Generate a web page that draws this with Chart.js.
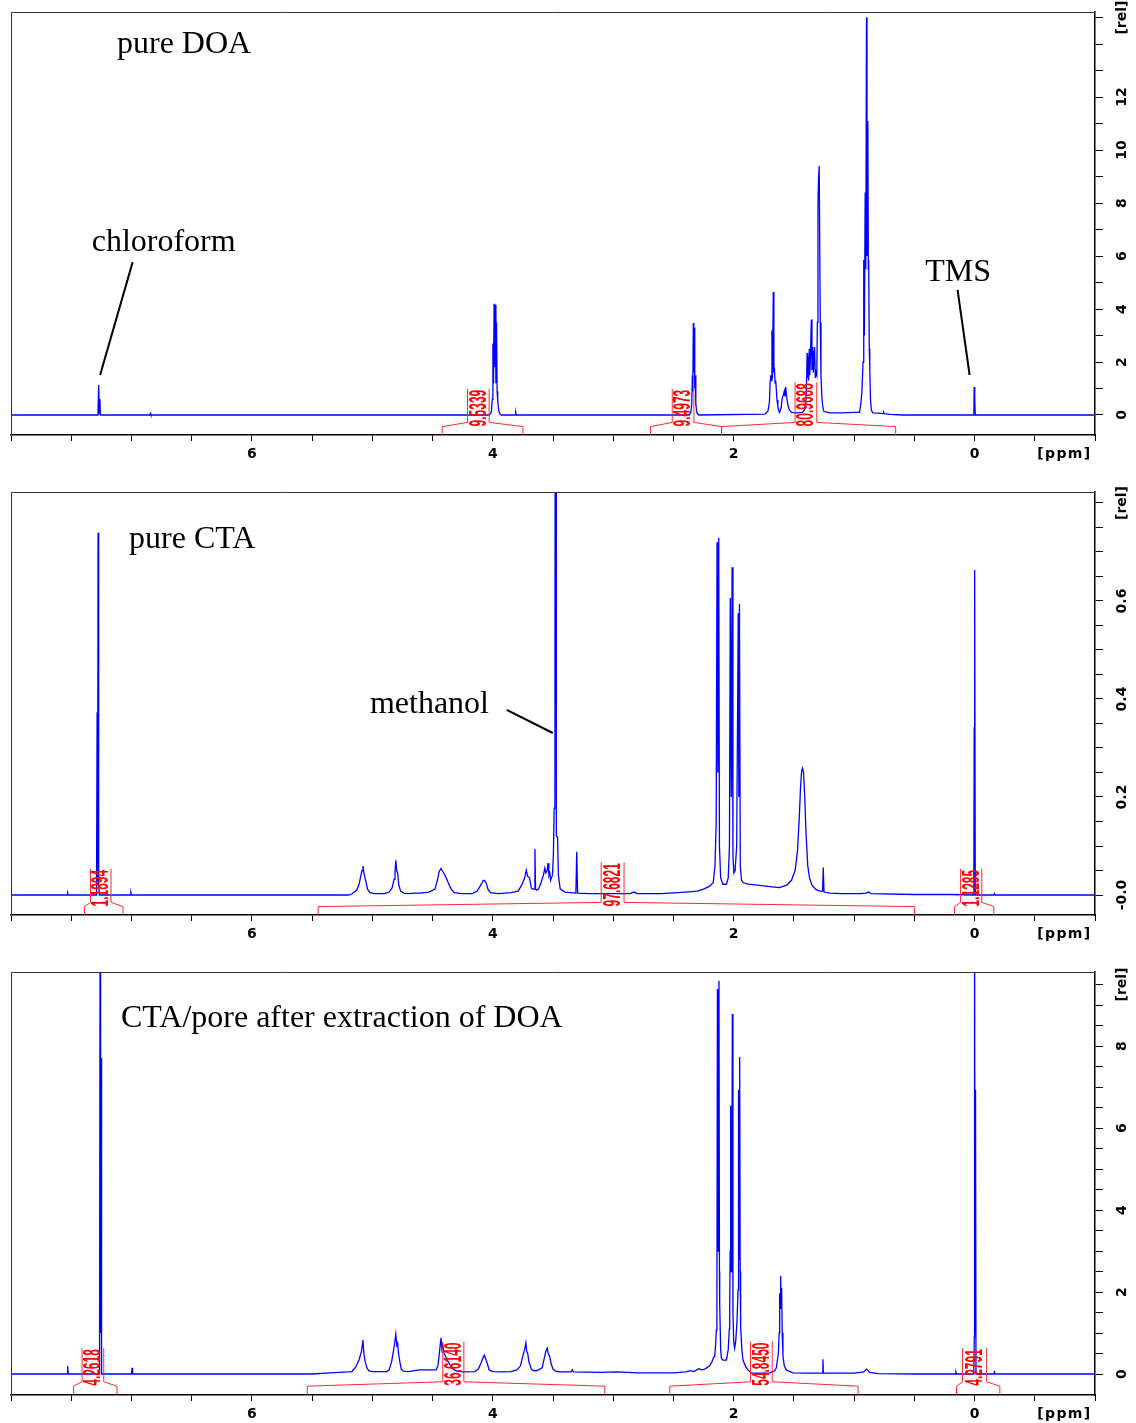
<!DOCTYPE html>
<html><head><meta charset="utf-8">
<script src="https://cdn.jsdelivr.net/npm/chart.js@4.4.0/dist/chart.umd.min.js"></script>
<style>
html,body{margin:0;padding:0;background:#fff;overflow:hidden;width:1136px;height:1423px}
.panel{position:absolute;left:0;width:1136px;height:480px}
</style></head><body>
<div class="panel" style="top:0"><canvas id="c1" width="1136" height="480"></canvas></div>
<div class="panel" style="top:480px"><canvas id="c2" width="1136" height="480"></canvas></div>
<div class="panel" style="top:960px"><canvas id="c3" width="1136" height="480"></canvas></div>
<script>
// ---------------- DATA ----------------
// chemical shift axis ticks (ppm)
const ppmTicks = [-1,-0.5,0,0.5,1,1.5,2,2.5,3,3.5,4,4.5,5,5.5,6,6.5,7,7.5,8];
const ppmTickLabels = {"6":"6","4":"4","2":"2","0":"0"};
const ppmUnitLabel = "[ppm]";

// intensity axis ticks
const doaTicks = [0,1,2,3,4,5,6,7,8,9,10,11,12,13,14,15];
const doaTickLabels = {"0":"0","2":"2","4":"4","6":"6","8":"8","10":"10","12":"12","15":"[rel]"};
const ctaTicks = [0,0.05,0.1,0.15,0.2,0.25,0.3,0.35,0.4,0.45,0.5,0.55,0.6,0.65,0.7,0.75,0.8];
const ctaTickLabels = {"0.00":"-0.0","0.20":"0.2","0.40":"0.4","0.60":"0.6","0.80":"[rel]"};
const poreTicks = [0,0.5,1,1.5,2,2.5,3,3.5,4,4.5,5,5.5,6,6.5,7,7.5,8,8.5,9,9.5];
const poreTickLabels = {"0":"0","2":"2","4":"4","6":"6","8":"8","9.5":"[rel]"};

// spectra: [ppm, relative intensity]
const doaSpectrum = [
 [8.0,0],[7.278,0],[7.272,1.13],[7.266,0.05],[7.262,0.6],[7.258,0],
 [6.848,0],[6.843,0.06],[6.838,0],
 [4.03,0],[4.012,0.1],[4.004,0.6],[3.999,2.7],[3.994,1.2],[3.989,4.2],[3.984,1.8],[3.979,4.15],[3.974,1.2],[3.969,3.5],[3.964,0.9],[3.959,0.55],[3.952,0.2],[3.942,0.05],[3.93,0],
 [3.815,0],[3.81,0.1],[3.805,0],
 [2.37,0],[2.355,0.1],[2.348,0.4],[2.343,1.5],[2.339,0.9],[2.335,3.47],[2.331,1.6],[2.327,3.3],[2.323,1.0],[2.319,1.5],[2.314,0.4],[2.305,0.08],[2.29,0],
 [1.74,0.03],[1.715,0.15],[1.703,0.5],[1.697,1.3],[1.693,1.5],[1.688,1.3],[1.682,3.2],[1.678,1.4],[1.671,4.64],[1.666,1.6],[1.662,1.8],[1.656,1.2],[1.651,1.3],[1.645,0.9],[1.64,0.57],[1.633,0.3],[1.625,0.15],[1.618,0.1],
 [1.605,0.3],[1.596,0.65],[1.588,0.75],[1.58,0.9],[1.574,0.7],[1.568,1.06],[1.562,0.75],[1.556,0.55],[1.548,0.35],[1.538,0.2],[1.52,0.1],[1.48,0.08],[1.43,0.1],
 [1.41,0.2],[1.4,0.45],[1.395,1.3],[1.39,2.34],[1.386,1.4],[1.382,2.2],[1.378,1.3],[1.372,2.5],[1.368,1.5],[1.362,2.3],[1.355,3.6],[1.35,1.7],[1.344,2.57],[1.338,1.6],[1.332,2.4],[1.328,2.57],[1.322,1.4],[1.316,1.6],[1.31,1.5],[1.305,3.5],[1.3,8.0],[1.295,8.94],[1.29,9.4],[1.286,9.4],[1.281,3.5],[1.275,1.5],[1.268,0.7],[1.26,0.3],[1.25,0.13],[1.2,0.08],[1.1,0.08],[1.0,0.1],
 [0.97,0.1],[0.955,0.1],[0.945,0.38],[0.935,0.9],[0.926,2.0],[0.92,5.85],[0.915,3.0],[0.908,8.4],[0.903,5.5],[0.897,15.0],[0.893,6.0],[0.886,11.1],[0.882,5.5],[0.879,5.85],[0.874,2.5],[0.87,1.77],[0.864,0.6],[0.857,0.19],[0.845,0.08],[0.8,0.07],[0.76,0.05],[0.755,0.1],[0.75,0.05],[0.7,0.02],[0.6,0],
 [0.006,0],[0.003,1.06],[0.0,0.3],[-0.003,0.6],[-0.006,0],[-1.0,0]
];
const ctaSpectrum = [
 [8.0,0],[7.535,0],[7.53,0.004],[7.525,0],
 [7.29,0],[7.285,0.373],[7.281,0.02],[7.277,0.739],[7.272,0.02],[7.266,0],
 [7.01,0],[7.005,0.005],[7.0,0],
 [5.2,0],[5.17,0.002],[5.13,0.01],[5.11,0.022],[5.095,0.04],[5.085,0.05],[5.078,0.059],[5.07,0.045],[5.06,0.034],[5.05,0.024],[5.04,0.012],[5.02,0.005],[4.98,0.003],
 [4.9,0.003],[4.86,0.006],[4.835,0.015],[4.82,0.032],[4.812,0.045],[4.805,0.071],[4.798,0.05],[4.79,0.045],[4.78,0.02],[4.765,0.008],[4.74,0.004],[4.7,0.003],[4.65,0.004],[4.6,0.004],
 [4.53,0.006],[4.48,0.012],[4.46,0.03],[4.445,0.048],[4.43,0.054],[4.42,0.05],[4.405,0.044],[4.385,0.034],[4.365,0.022],[4.345,0.012],[4.32,0.005],[4.26,0.003],
 [4.17,0.003],[4.13,0.008],[4.1,0.02],[4.08,0.029],[4.07,0.03],[4.055,0.025],[4.04,0.012],[4.02,0.005],[3.95,0.003],[3.85,0.005],
 [3.79,0.008],[3.76,0.02],[3.735,0.035],[3.722,0.051],[3.71,0.038],[3.695,0.035],[3.68,0.014],[3.668,0.012],
 [3.655,0.012],[3.65,0.094],[3.645,0.012],[3.635,0.01],
 [3.62,0.012],[3.6,0.025],[3.58,0.04],[3.568,0.055],[3.56,0.045],[3.548,0.05],[3.541,0.065],[3.534,0.04],[3.527,0.045],[3.52,0.03],[3.513,0.035],[3.505,0.04],[3.497,0.08],[3.49,0.177],[3.484,0.18],[3.481,1.5],[3.475,1.5],[3.472,0.12],[3.462,0.118],[3.455,0.04],[3.44,0.012],[3.4,0.006],
 [3.31,0.004],[3.303,0.088],[3.296,0.004],
 [3.2,0.003],[3.0,0.003],[2.86,0.003],[2.83,0.006],[2.8,0.003],[2.6,0.003],[2.4,0.006],[2.3,0.008],[2.25,0.012],[2.2,0.018],
 [2.17,0.025],[2.155,0.06],[2.145,0.15],[2.138,0.72],[2.131,0.25],[2.124,0.729],[2.118,0.1],[2.108,0.035],[2.09,0.022],[2.06,0.022],[2.045,0.035],[2.035,0.1],[2.028,0.606],[2.02,0.2],[2.013,0.669],[2.006,0.08],[1.998,0.045],[1.988,0.05],[1.975,0.1],[1.962,0.575],[1.957,0.2],[1.952,0.594],[1.945,0.06],[1.935,0.03],[1.92,0.025],[1.88,0.022],[1.8,0.02],[1.7,0.017],[1.62,0.015],
 [1.56,0.02],[1.52,0.03],[1.49,0.05],[1.47,0.09],[1.455,0.16],[1.445,0.22],[1.435,0.255],[1.428,0.259],[1.42,0.25],[1.41,0.2],[1.4,0.13],[1.385,0.06],[1.37,0.035],[1.35,0.02],[1.32,0.012],[1.29,0.008],
 [1.262,0.008],[1.256,0.056],[1.25,0.006],[1.2,0.004],[1.1,0.003],[0.95,0.003],[0.9,0.004],[0.88,0.006],[0.86,0.003],[0.5,0.001],[0.2,0.001],
 [0.006,0],[0.003,0.343],[0.0,0.02],[-0.002,0.663],[-0.006,0],[-0.16,0],[-0.165,0.003],[-0.17,0],[-1.0,0]
];
const poreSpectrum = [
 [8.0,0],[7.535,0],[7.53,0.2],[7.525,0],
 [7.265,0],[7.26,12],[7.256,1.0],[7.252,7.7],[7.248,0],
 [7.0,0],[6.995,0.15],[6.99,0],
 [5.5,0],[5.35,0.03],[5.2,0.05],[5.17,0.06],[5.14,0.16],[5.11,0.35],[5.09,0.55],[5.078,0.83],[5.07,0.5],[5.06,0.31],[5.045,0.15],[5.03,0.08],[5.0,0.06],[4.95,0.06],
 [4.88,0.06],[4.86,0.1],[4.84,0.3],[4.825,0.55],[4.815,0.75],[4.805,0.97],[4.797,0.7],[4.79,0.75],[4.782,0.5],[4.77,0.27],[4.76,0.12],[4.74,0.07],[4.7,0.06],[4.65,0.08],[4.6,0.1],[4.55,0.1],[4.5,0.1],
 [4.47,0.1],[4.455,0.2],[4.44,0.6],[4.43,0.88],[4.422,0.6],[4.415,0.7],[4.405,0.5],[4.39,0.42],[4.37,0.3],[4.35,0.2],[4.33,0.12],[4.3,0.07],[4.25,0.05],
 [4.15,0.06],[4.12,0.12],[4.1,0.25],[4.08,0.4],[4.07,0.46],[4.06,0.38],[4.045,0.25],[4.03,0.1],[4.0,0.06],[3.92,0.05],[3.85,0.06],
 [3.8,0.1],[3.77,0.2],[3.75,0.45],[3.735,0.6],[3.725,0.76],[3.718,0.55],[3.71,0.5],[3.7,0.3],[3.68,0.12],[3.66,0.08],[3.64,0.08],[3.62,0.1],
 [3.59,0.15],[3.575,0.35],[3.56,0.55],[3.548,0.63],[3.54,0.5],[3.53,0.45],[3.515,0.25],[3.5,0.12],[3.48,0.07],[3.45,0.05],
 [3.35,0.05],[3.34,0.1],[3.33,0.05],[3.1,0.04],[2.97,0.05],[2.8,0.03],[2.5,0.03],[2.4,0.05],[2.36,0.08],[2.33,0.06],[2.296,0.12],[2.285,0.13],[2.27,0.1],[2.24,0.12],[2.2,0.2],
 [2.18,0.3],[2.165,0.42],[2.158,0.42],[2.15,0.7],[2.144,1.07],[2.139,2.0],[2.135,9.39],[2.131,3.0],[2.127,3.0],[2.122,9.59],[2.118,2.5],[2.116,1.7],[2.108,0.6],[2.102,0.39],[2.09,0.34],[2.06,0.34],[2.045,0.6],[2.036,1.1],[2.033,1.6],[2.029,3.0],[2.025,6.54],[2.02,2.5],[2.016,3.0],[2.011,8.78],[2.006,1.5],[2.0,0.8],[1.992,0.63],[1.983,0.8],[1.972,1.3],[1.964,2.05],[1.961,3.0],[1.958,6.93],[1.954,2.8],[1.95,7.73],[1.946,2.5],[1.942,1.15],[1.932,0.6],[1.923,0.34],[1.9,0.18],[1.881,0.1],[1.853,0.02],
 [1.8,0.02],[1.7,0.03],[1.66,0.08],[1.646,0.15],[1.629,0.5],[1.622,1.0],[1.618,1.97],[1.613,1.6],[1.61,2.39],[1.606,1.7],[1.602,2.1],[1.597,1.0],[1.591,0.45],[1.58,0.2],[1.563,0.1],[1.51,0.03],
 [1.4,0.02],[1.264,0.02],[1.259,0.36],[1.255,0.03],[1.2,0.02],[1.0,0.02],[0.92,0.05],[0.896,0.12],[0.87,0.04],[0.8,0.01],[0.5,0],
 [0.16,0],[0.155,0.05],[0.15,0],
 [0.006,0],[0.002,0.9],[0.0,12],[-0.004,1.0],[-0.008,6.93],[-0.012,0],
 [-0.16,0],[-0.165,0.05],[-0.17,0],[-1.0,0]
];

// integral regions (ppm): start, label left, label right, end, value
const doaIntStart = [4.42, 2.69, 2.10];
const doaIntLabelL = [4.21, 2.51, 1.49];
const doaIntLabelR = [4.03, 2.33, 1.31];
const doaIntEnd = [3.75, 2.10, 0.655];
const doaIntValue = ["9.5339", "9.4973", "80.9688"];

const ctaIntStart = [7.39, 5.45, 0.166];
const ctaIntLabelL = [7.34, 3.10, 0.116];
const ctaIntLabelR = [7.17, 2.91, -0.06];
const ctaIntEnd = [7.07, 0.50, -0.16];
const ctaIntValue = ["1.1894", "97.6821", "1.1285"];

const poreIntStart = [7.48, 5.54, 2.53, 0.15];
const poreIntLabelL = [7.41, 4.415, 1.86, 0.10];
const poreIntLabelR = [7.23, 4.24, 1.68, -0.10];
const poreIntEnd = [7.12, 3.07, 0.967, -0.21];
const poreIntValue = ["4.2618", "36.6140", "54.8450", "4.2791"];

// ---------------- RENDERING ----------------
const AXIS_FONT = {family: '"DejaVu Sans", sans-serif', weight: 'bold', size: 14};
const SERIF = '"Liberation Serif", "Times New Roman", serif';

const decorPlugin = {
  id: 'decor',
  afterDatasetsDraw(chart, args, opts) {
    const {ctx, chartArea: a} = chart;
    const x = chart.scales.x, y = chart.scales.y;
    ctx.save();
    // frame (top & left)
    ctx.strokeStyle = '#333';
    ctx.lineWidth = 1;
    ctx.beginPath();
    ctx.moveTo(a.left + 0.5, a.bottom);
    ctx.lineTo(a.left + 0.5, a.top + 0.5);
    ctx.lineTo(a.right, a.top + 0.5);
    ctx.stroke();

    // integrals
    const ig = opts.integrals;
    const base = y.getPixelForValue(0);
    const gap = a.bottom - base;
    const yEnd = base + gap * 0.58;
    const yMid = base + gap * 0.37;
    ctx.strokeStyle = '#ff2a2a';
    ctx.fillStyle = '#ff0000';
    ctx.lineWidth = 1;
    ctx.font = 'bold 23px "Liberation Sans", Arial, sans-serif';
    const sx = 0.52;
    for (let i = 0; i < ig.start.length; i++) {
      const xs = x.getPixelForValue(ig.start[i]);
      const xl = x.getPixelForValue(ig.left[i]);
      const xr = x.getPixelForValue(ig.right[i]);
      const xe = x.getPixelForValue(ig.end[i]);
      const tw = ctx.measureText(ig.value[i]).width * sx;
      const textBottom = yMid + 4;
      const top = textBottom - tw - 1;
      ctx.beginPath();
      ctx.moveTo(xs, a.bottom); ctx.lineTo(xs, yEnd); ctx.lineTo(xl, yMid); ctx.lineTo(xl, top);
      ctx.moveTo(xr, top); ctx.lineTo(xr, yMid); ctx.lineTo(xe, yEnd); ctx.lineTo(xe, a.bottom);
      ctx.stroke();
      ctx.save();
      ctx.translate((xl + xr) / 2, textBottom - tw / 2);
      ctx.rotate(-Math.PI / 2);
      ctx.scale(sx, 1);
      ctx.textAlign = 'center';
      ctx.textBaseline = 'middle';
      ctx.fillText(ig.value[i], 0, 1);
      ctx.restore();
    }

    // text annotations
    ctx.fillStyle = '#000';
    ctx.font = '32px ' + SERIF;
    ctx.textAlign = 'left';
    ctx.textBaseline = 'alphabetic';
    (opts.texts || []).forEach(t => {
      ctx.fillText(t.text, x.getPixelForValue(t.ppm), y.getPixelForValue(t.rel));
    });
    ctx.strokeStyle = '#000';
    ctx.lineWidth = 2;
    (opts.pointers || []).forEach(p => {
      ctx.beginPath();
      ctx.moveTo(x.getPixelForValue(p[0]), y.getPixelForValue(p[1]));
      ctx.lineTo(x.getPixelForValue(p[2]), y.getPixelForValue(p[3]));
      ctx.stroke();
    });
    ctx.restore();
  }
};

function makePanel(id, spectrum, yMin, yMax, yTicks, yLabels, yKey, integrals, texts, pointers) {
  const xTickVals = ppmTicks.concat([-0.74]).sort((p, q) => p - q);
  new Chart(document.getElementById(id), {
    type: 'line',
    data: {
      datasets: [{
        data: spectrum.map(p => ({x: p[0], y: p[1]})),
        borderColor: '#0000ff',
        borderWidth: 1.3,
        pointRadius: 0,
        tension: 0,
        fill: false
      }]
    },
    options: {
      responsive: false,
      animation: false,
      devicePixelRatio: 1,
      parsing: false,
      events: [],
      layout: {padding: {left: 11, top: 12, right: 0, bottom: 0}},
      plugins: {
        legend: {display: false},
        tooltip: {enabled: false},
        decor: {integrals, texts, pointers}
      },
      scales: {
        x: {
          type: 'linear', reverse: true, min: -1, max: 8, position: 'bottom',
          afterBuildTicks: s => { s.ticks = xTickVals.map(v => ({value: v})); },
          afterFit: s => { s.height = 45; },
          ticks: {
            autoSkip: false, maxRotation: 0, minRotation: 0, padding: 5,
            color: '#000', font: AXIS_FONT,
            callback: v => (Math.abs(v + 0.74) < 1e-6 ? ppmUnitLabel.split('').join('\u200A') : (ppmTickLabels[String(v)] || ''))
          },
          grid: {
            drawOnChartArea: false, drawTicks: true, tickLength: 6, tickWidth: 1,
            tickColor: c => (c.tick && Math.abs(c.tick.value + 0.74) < 1e-6 ? 'rgba(0,0,0,0)' : '#000')
          },
          border: {display: true, color: '#000', width: 1.5}
        },
        y: {
          type: 'linear', position: 'right', min: yMin, max: yMax,
          afterBuildTicks: s => { s.ticks = yTicks.map(v => ({value: v})); },
          afterFit: s => { s.width = 41; },
          ticks: {
            autoSkip: false, minRotation: 90, maxRotation: 90, crossAlign: 'center', padding: 2,
            color: '#000', font: AXIS_FONT,
            callback: v => yLabels[yKey(v)] || ''
          },
          grid: {drawOnChartArea: false, drawTicks: true, tickLength: 8, tickWidth: 1, tickColor: '#000'},
          border: {display: true, color: '#000', width: 1.5}
        }
      }
    },
    plugins: [decorPlugin]
  });
}

makePanel('c1', doaSpectrum, -0.755, 15.21, doaTicks, doaTickLabels, v => String(v),
  {start: doaIntStart, left: doaIntLabelL, right: doaIntLabelR, end: doaIntEnd, value: doaIntValue},
  [{text: 'pure DOA', ppm: 7.12, rel: 13.66}, {text: 'chloroform', ppm: 7.33, rel: 6.19}, {text: 'TMS', ppm: 0.41, rel: 5.06}],
  [[6.99, 5.77, 7.26, 1.51], [0.141, 4.72, 0.041, 1.51]]);

makePanel('c2', ctaSpectrum, -0.0408, 0.8224, ctaTicks, ctaTickLabels, v => v.toFixed(2),
  {start: ctaIntStart, left: ctaIntLabelL, right: ctaIntLabelR, end: ctaIntEnd, value: ctaIntValue},
  [{text: 'pure CTA', ppm: 7.02, rel: 0.708}, {text: 'methanol', ppm: 5.02, rel: 0.3714}],
  [[3.884, 0.3776, 3.502, 0.3306]]);

makePanel('c3', poreSpectrum, -0.512, 9.805, poreTicks, poreTickLabels, v => String(v),
  {start: poreIntStart, left: poreIntLabelL, right: poreIntLabelR, end: poreIntEnd, value: poreIntValue},
  [{text: 'CTA/pore after extraction of DOA', ppm: 7.087, rel: 8.46}],
  []);
</script>
</body></html>
